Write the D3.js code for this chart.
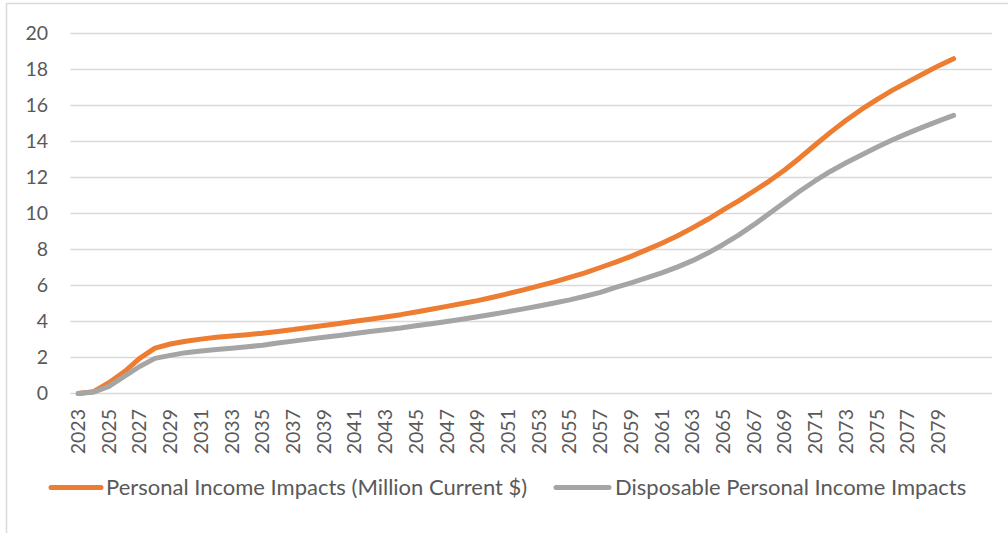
<!DOCTYPE html>
<html>
<head>
<meta charset="utf-8">
<script src="https://cdn.jsdelivr.net/npm/d3@7"></script>
<style>
  html, body { margin: 0; padding: 0; background: #fff; }
  svg { display: block; }
  text { font-family: Lato, "Noto Sans", sans-serif; fill: #595959; }
</style>
</head>
<body>
<svg id="chart" width="1008" height="533"></svg>
<script>
// Years on the category axis (two trailing empty slots keep the axis span)
const years = d3.range(2023, 2081);
const slotCount = 60;

// Personal income impacts, million current dollars
const personalIncome = [
  0, 0.1, 0.6, 1.2, 1.95, 2.52, 2.75, 2.9, 3.02, 3.12,
  3.2, 3.27, 3.35, 3.45, 3.55, 3.67, 3.78, 3.89, 4.01, 4.13,
  4.25, 4.38, 4.53, 4.68, 4.84, 5.0, 5.16, 5.35, 5.55, 5.76,
  5.98, 6.2, 6.45, 6.7, 7.0, 7.3, 7.62, 7.98, 8.35, 8.75,
  9.2, 9.68, 10.2, 10.7, 11.25, 11.8, 12.42, 13.1, 13.82, 14.52,
  15.18, 15.78, 16.33, 16.84, 17.3, 17.75, 18.2, 18.6
];

// Disposable personal income impacts
const disposableIncome = [
  0, 0.08, 0.4, 0.95, 1.5, 1.95, 2.12, 2.27, 2.36, 2.45,
  2.52, 2.6, 2.68, 2.8, 2.91, 3.02, 3.12, 3.22, 3.33, 3.44,
  3.54, 3.64, 3.76, 3.88, 4.0, 4.13, 4.26, 4.4, 4.55, 4.7,
  4.86, 5.03, 5.2, 5.4, 5.62, 5.9, 6.15, 6.42, 6.7, 7.02,
  7.38, 7.8, 8.28, 8.8, 9.38, 10.0, 10.63, 11.25, 11.82, 12.35,
  12.82, 13.25, 13.68, 14.08, 14.45, 14.8, 15.13, 15.45
];

const yTicks = [0, 2, 4, 6, 8, 10, 12, 14, 16, 18, 20];
const seriesNames = ["Personal Income Impacts (Million Current $)", "Disposable Personal Income Impacts"];
const seriesColors = ["#ED7D31", "#A5A5A5"];

const svg = d3.select("#chart");

// Chart frame
svg.append("rect")
  .attr("x", 6.5).attr("y", 3.5)
  .attr("width", 1010).attr("height", 540)
  .attr("fill", "none").attr("stroke", "#d9d9d9").attr("stroke-width", 1.5);

const x = d3.scaleBand().domain(d3.range(slotCount)).range([70.5, 992]);
const y = d3.scaleLinear().domain([0, 20]).range([393.5, 33.5]);
const cx = i => x(i) + x.bandwidth() / 2;

// Horizontal gridlines
svg.append("g").selectAll("line").data(yTicks).join("line")
  .attr("x1", 70.5).attr("x2", 992)
  .attr("y1", d => y(d)).attr("y2", d => y(d))
  .attr("stroke", "#d9d9d9").attr("stroke-width", 1.3);

// Y axis labels
const yAxis = d3.axisLeft(y).tickValues(yTicks).tickSize(0).tickPadding(0);
const yg = svg.append("g").attr("transform", "translate(48,0)").call(yAxis);
yg.select(".domain").remove();
yg.selectAll("text").attr("font-size", 19.5).attr("font-family", "Lato").attr("fill", "#595959");

// X axis labels, every second year, rotated
const xAxis = d3.axisBottom(x)
  .tickValues(d3.range(0, years.length, 2))
  .tickFormat(i => years[i])
  .tickSize(0).tickPadding(0);
const xg = svg.append("g").attr("transform", "translate(0,409)").call(xAxis);
xg.select(".domain").remove();
xg.selectAll("text")
  .attr("font-size", 19.5).attr("font-family", "Lato").attr("fill", "#595959")
  .attr("text-anchor", "end")
  .attr("transform", "rotate(-90)")
  .attr("x", 0).attr("y", 0).attr("dy", "0.35em");

// Series lines
const line = d3.line().x((d, i) => cx(i)).y(d => y(d));
[personalIncome, disposableIncome].forEach((vals, k) => {
  svg.append("path")
    .datum(vals)
    .attr("d", line)
    .attr("fill", "none")
    .attr("stroke", seriesColors[k])
    .attr("stroke-width", 5)
    .attr("stroke-linecap", "round")
    .attr("stroke-linejoin", "round");
});

// Legend
const legendY = 487.5;
const legendItems = [
  { x1: 51, x2: 101, tx: 106 },
  { x1: 556, x2: 609, tx: 615 }
];
legendItems.forEach((it, k) => {
  svg.append("line")
    .attr("x1", it.x1).attr("x2", it.x2)
    .attr("y1", legendY).attr("y2", legendY)
    .attr("stroke", seriesColors[k]).attr("stroke-width", 5)
    .attr("stroke-linecap", "round");
  svg.append("text")
    .attr("x", it.tx).attr("y", legendY).attr("dy", "0.35em")
    .attr("font-size", 22)
    .text(seriesNames[k]);
});
</script>
</body>
</html>
